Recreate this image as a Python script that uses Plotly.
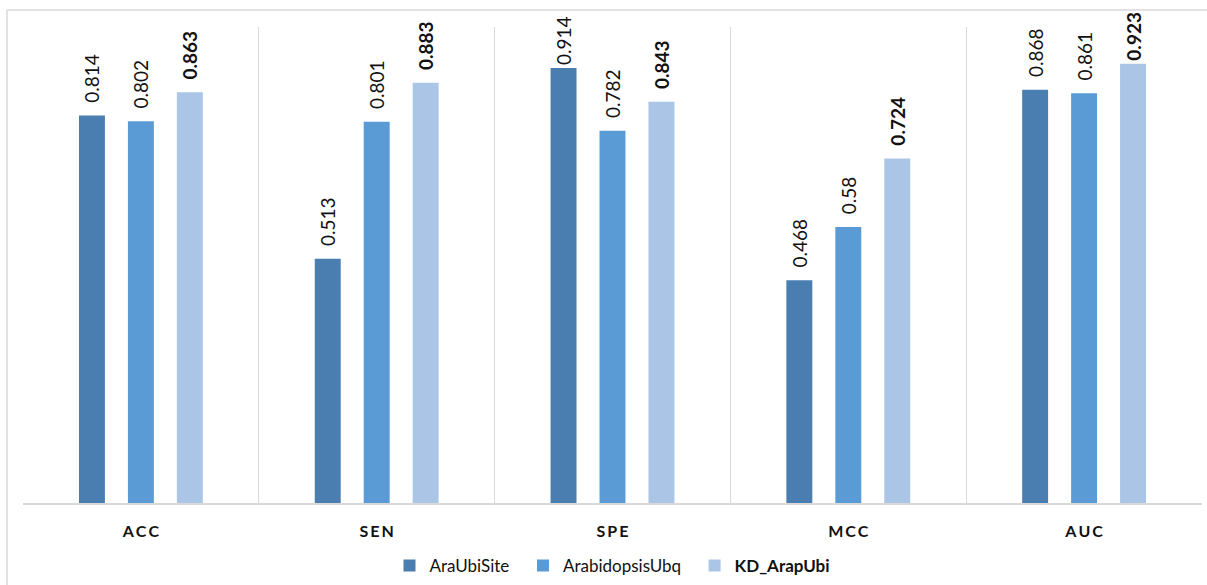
import plotly.graph_objects as go

categories = ["ACC", "SEN", "SPE", "MCC", "AUC"]
series_names = ["AraUbiSite", "ArabidopsisUbq", "KD_ArapUbi"]
araubisite = [0.814, 0.513, 0.914, 0.468, 0.868]
arabidopsisubq = [0.802, 0.801, 0.782, 0.58, 0.861]
kd_arapubi = [0.863, 0.883, 0.843, 0.724, 0.923]

colors = ["#4a7eb0", "#5b9bd5", "#abc5e6"]
values = [araubisite, arabidopsisubq, kd_arapubi]
legend_pad = ["\u00a0\u00a0", "\u2002", ""]

cat_labels = ["\u2009".join(list(c)) for c in categories]
FONT = "Lato, Open Sans, sans-serif"


def label(v, bold):
    s = f"<b>{v:g}</b>" if bold else f"{v:g}"
    # labels near the top of the chart area sit closer to their bar
    pad = "" if v > 0.9 else "\u00a0\u00a0"
    return pad + s


fig = go.Figure()
for i, (name, vals, col) in enumerate(zip(series_names, values, colors)):
    bold = i == 2
    lab = f"<b>{name}</b>" if bold else name
    fig.add_trace(go.Bar(
        x=cat_labels, y=vals,
        name=lab + legend_pad[i],
        marker=dict(color=col, line=dict(width=0)),
        text=[label(v, bold) for v in vals],
        textposition="outside",
        textangle=-90,
        constraintext="none",
        textfont=dict(family=FONT, size=19, color="#111"),
        cliponaxis=False,
    ))

fig.update_layout(
    width=1207, height=585,
    margin=dict(l=23, r=5, t=27, b=82),
    paper_bgcolor="white", plot_bgcolor="white",
    barmode="group", bargap=0.377, bargroupgap=0.47,
    font=dict(family=FONT, color="#111"),
    showlegend=True,
    legend=dict(orientation="h", x=0.5, xanchor="center",
                yref="container", y=(585 - 566) / 585, yanchor="middle",
                font=dict(size=17, color="#111"), itemsizing="constant",
                traceorder="normal"),
    xaxis=dict(
        tickson="boundaries", showgrid=True, gridcolor="#d9d9d9", gridwidth=1,
        ticks="", showline=True, linecolor="#d9d9d9", linewidth=2,
        ticklabelstandoff=13,
        tickfont=dict(size=16, color="#111", family=FONT, weight="bold"),
        mirror=False,
    ),
    yaxis=dict(range=[0, 1.0], visible=False, showgrid=False, zeroline=False),
    shapes=[
        dict(type="line", xref="paper", yref="paper",
             x0=(7 - 23) / 1179, x1=(1207 - 23) / 1179,
             y0=1 + (27 - 10) / 476, y1=1 + (27 - 10) / 476,
             line=dict(color="#d9d9d9", width=1.5)),
        dict(type="line", xref="paper", yref="paper",
             x0=(7 - 23) / 1179, x1=(7 - 23) / 1179,
             y0=1 + (27 - 10) / 476, y1=-(585 - 503) / 476,
             line=dict(color="#d9d9d9", width=1.5)),
    ],
)

fig.write_html("out.html")
